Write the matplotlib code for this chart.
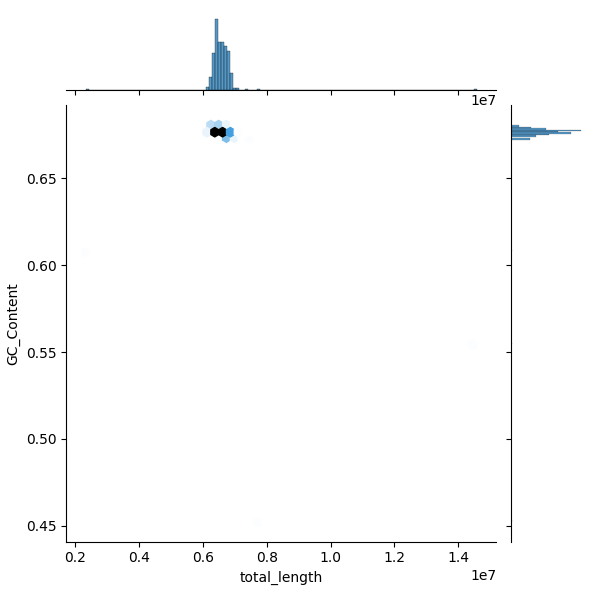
import numpy as np
import pandas as pd
import matplotlib
matplotlib.use("Agg")
import matplotlib as mpl
import matplotlib.pyplot as plt
import seaborn as sns

# total_length bin centres (x1e6) of the main cluster
length_centres = [6.151, 6.245, 6.339, 6.433, 6.527, 6.621, 6.715, 6.809, 6.903, 6.997, 7.091, 7.374]
# GC content levels of the main cluster
gc_levels = [0.6726, 0.6743, 0.6751, 0.6760, 0.6768, 0.6776, 0.6785, 0.6793, 0.6806]
# counts: rows = length_centres, columns = gc_levels
counts = [
    [0, 0, 0, 0, 0, 1, 0, 1, 1],
    [0, 0, 0, 1, 1, 2, 3, 4, 2],
    [0, 1, 4, 7, 6, 9, 4, 3, 1],
    [0, 0, 8, 19, 11, 18, 8, 2, 2],
    [0, 1, 4, 9, 8, 9, 6, 7, 2],
    [4, 3, 6, 7, 5, 11, 8, 2, 0],
    [4, 10, 6, 5, 6, 8, 3, 0, 0],
    [5, 5, 6, 7, 5, 7, 2, 0, 0],
    [2, 3, 2, 3, 3, 3, 0, 0, 0],
    [1, 1, 0, 0, 0, 0, 0, 0, 0],
    [1, 0, 1, 0, 0, 0, 0, 0, 0],
    [1, 0, 0, 0, 0, 0, 0, 0, 0],
]
# isolated genomes
outlier_length = [2.34e6, 14.57e6, 7.75e6]
outlier_gc = [0.608, 0.555, 0.4523]

xs, ys = [], []
for i, xc in enumerate(length_centres):
    for j, gv in enumerate(gc_levels):
        n = counts[i][j]
        xs += [xc * 1e6] * n
        ys += [gv] * n
xs += outlier_length
ys += outlier_gc

df = pd.DataFrame({"total_length": xs, "GC_Content": ys})

color = "C0"
color_rgb = mpl.colors.to_rgb(color)
pal = [sns.utils.set_hls_values(color_rgb, l=l) for l in np.linspace(1, 0, 12)]
cmap = sns.blend_palette(pal, as_cmap=True)

g = sns.JointGrid(data=df, x="total_length", y="GC_Content", height=6)
g.ax_joint.hexbin(df["total_length"], df["GC_Content"], gridsize=50, cmap=cmap)
sns.histplot(x=df["total_length"], ax=g.ax_marg_x, bins=130, color=color)
sns.histplot(y=df["GC_Content"], ax=g.ax_marg_y, bins=270, color=color)
g.ax_joint.set_xlabel("total_length")
g.ax_joint.set_ylabel("GC_Content")
g.figure.savefig("out.png", dpi=100)
